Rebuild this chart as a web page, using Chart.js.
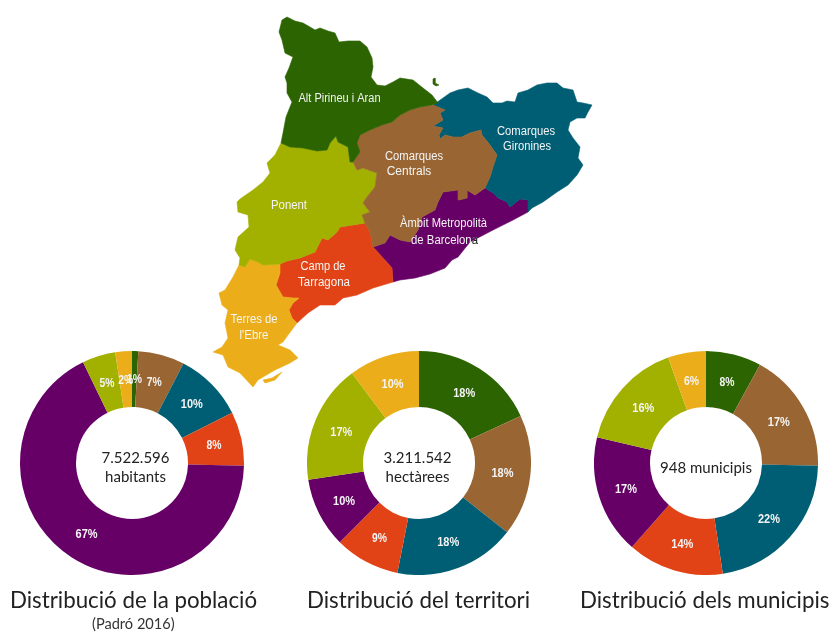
<!DOCTYPE html>
<html>
<head>
<meta charset="utf-8">
<title>Distribució per àmbits territorials</title>
<script src="https://cdn.jsdelivr.net/npm/chart.js@4/dist/chart.umd.min.js"></script>
<style>
  body { margin: 0; background: #fff; width: 833px; height: 632px; overflow: hidden; position: relative; font-family: Lato, sans-serif; }
  canvas { position: absolute; filter: blur(0.4px); }
  .titol { position: absolute; white-space: nowrap; color: #222; font-size: 22.3px; line-height: 28px; top: 586px; filter: blur(0.3px); }
  .nota { position: absolute; white-space: nowrap; color: #333; font-size: 14.6px; line-height: 16px; left: 92px; top: 616px; filter: blur(0.3px); }
</style>
</head>
<body>
<canvas id="mapa" width="833" height="632" style="left:0;top:0"></canvas>
<canvas id="poblacio" width="224" height="224" style="left:20px;top:351px"></canvas>
<canvas id="territori" width="224" height="224" style="left:307px;top:351px"></canvas>
<canvas id="municipis" width="224" height="224" style="left:594px;top:351px"></canvas>
<div class="titol" style="left:10px">Distribució de la població</div>
<div class="nota">(Padró 2016)</div>
<div class="titol" style="left:307px">Distribució del territori</div>
<div class="titol" style="left:580px">Distribució dels municipis</div>

<script>
// ordre dels ambits als donuts
var ambits = ["Alt Pirineu i Aran", "Comarques Centrals", "Comarques Gironines", "Camp de Tarragona", "Àmbit Metropolità de Barcelona", "Ponent", "Terres de l'Ebre"];
var colors = ["#2b6400", "#996633", "#005e74", "#e24316", "#660066", "#a2b000", "#ebae1a"];

// percentatges llegits dels angles de cada sector
var poblacio = [0.9, 6.7, 10, 7.8, 67.4, 4.8, 2.4];
var territori = [18.1, 17.5, 17.5, 9.4, 10.1, 17.2, 10.2];
var municipis = [8, 17.4, 22.2, 13.9, 17.2, 15.8, 5.5];

var centrePoblacio = ["7.522.596", "habitants"];
var centreTerritori = ["3.211.542", "hectàrees"];
var centreMunicipis = ["948 municipis"];

// contorns del mapa, parelles x,y
var altPirineu = [[282,20],[287,17],[295,21],[303,23],[310,27],[315,30],[320,28],[328,31],[335,33],[339,42],[348,41],[360,41],[367,47],[372,58],[373,67],[371,77],[377,85],[385,86],[393,82],[400,78],[413,80],[423,88],[432,95],[438,103],[432,105],[420,107],[410,110],[400,115],[392,122],[382,125],[370,130],[360,135],[357,143],[360,152],[353,162],[350,162],[348,147],[338,142],[336,136],[330,143],[327,150],[317,151],[303,148],[290,147],[281,143],[283,133],[286,117],[292,102],[287,93],[287,83],[285,77],[289,68],[293,57],[285,53],[282,40],[279,32]];
var llivia = [[433,79],[435,78],[435,83],[439,85],[436,86],[433,84]];
var gironines = [[433,105],[443,98],[450,93],[458,90],[468,88],[478,93],[487,97],[493,103],[502,103],[507,101],[515,102],[518,93],[528,90],[537,85],[547,83],[557,83],[563,88],[573,90],[577,102],[583,103],[592,105],[588,112],[585,118],[577,118],[570,122],[568,130],[573,138],[580,147],[578,158],[583,165],[577,175],[568,185],[557,192],[543,202],[532,208],[528,212],[528,200],[520,199],[510,207],[507,202],[498,198],[493,193],[485,188],[490,177],[493,167],[497,155],[490,145],[482,135],[481,130],[470,133],[462,137],[453,137],[445,135],[440,139],[439,135],[443,128],[433,126],[443,120],[440,113],[445,110],[440,108]];
var centrals = [[353,162],[360,152],[357,143],[360,135],[370,130],[382,125],[392,122],[400,115],[410,110],[420,107],[433,105],[440,108],[445,110],[440,113],[443,120],[433,126],[443,128],[439,135],[440,139],[445,135],[453,137],[462,137],[470,133],[481,130],[482,135],[490,145],[497,155],[493,167],[490,177],[485,188],[475,195],[467,190],[467,198],[459,200],[458,190],[443,192],[438,202],[435,210],[422,217],[418,230],[410,242],[400,240],[390,235],[385,243],[373,247],[370,232],[365,223],[362,215],[370,212],[363,203],[367,197],[375,187],[377,173],[363,168],[357,170]];
var metropolita = [[373,247],[385,243],[390,235],[400,240],[410,242],[418,230],[422,217],[435,210],[438,202],[443,192],[458,190],[459,200],[467,198],[467,190],[475,195],[485,188],[493,193],[498,198],[507,202],[510,207],[520,199],[528,200],[528,212],[513,220],[493,230],[470,242],[458,257],[452,260],[445,268],[430,274],[415,278],[400,280],[393,282],[392,268],[383,258]];
var ponent = [[281,143],[290,147],[303,148],[317,151],[327,150],[330,143],[336,136],[338,142],[348,147],[350,162],[353,162],[357,170],[363,168],[377,173],[375,187],[367,197],[363,203],[370,212],[362,215],[365,223],[353,225],[340,227],[337,232],[328,240],[322,238],[315,252],[300,258],[287,261],[280,264],[263,265],[258,262],[250,259],[245,267],[239,265],[240,258],[235,250],[238,237],[249,227],[248,215],[238,212],[237,202],[240,199],[253,190],[263,182],[270,173],[267,163],[275,155]];
var campTarragona = [[365,223],[370,232],[373,247],[383,258],[392,268],[393,282],[373,288],[357,295],[343,298],[335,305],[320,305],[308,313],[297,323],[292,318],[289,310],[293,303],[299,298],[293,298],[283,297],[276,285],[280,273],[280,264],[287,261],[300,258],[315,252],[322,238],[328,240],[337,232],[340,227],[353,225]];
var terresEbre = [[280,264],[263,265],[258,262],[250,259],[245,267],[239,265],[233,277],[225,290],[219,293],[222,305],[228,310],[225,323],[228,338],[222,347],[213,352],[223,355],[228,367],[240,373],[253,387],[258,380],[263,377],[275,370],[290,363],[298,358],[290,350],[278,345],[283,342],[288,335],[297,323],[292,318],[289,310],[293,303],[299,298],[293,298],[283,297],[276,285],[280,273]];
var delta = [[282,372],[275,380],[265,383],[263,380],[272,378]];

var contorns = [
  [altPirineu, 0], [llivia, 0], [centrals, 1], [gironines, 2],
  [ponent, 5], [terresEbre, 6], [delta, 6], [campTarragona, 3], [metropolita, 4]
];

var etiquetesMapa = [
  ["Alt Pirineu i Aran", 339.5, 99, 82],
  ["Comarques", 526, 132, 58],
  ["Gironines", 527, 147, 48],
  ["Comarques", 414, 157, 58],
  ["Centrals", 409, 172, 50],
  ["Ponent", 289, 206, 36],
  ["Àmbit Metropolità", 443.5, 224, 87],
  ["de Barcelona", 444.5, 241, 67],
  ["Camp de", 323, 267, 45],
  ["Tarragona", 324, 283, 52],
  ["Terres de", 254, 320, 47],
  ["l'Ebre", 254, 336, 29]
];

var textMapa = {
  id: "textMapa",
  afterDatasetsDraw: function (chart) {
    var ctx = chart.ctx;
    var sx = chart.scales.x, sy = chart.scales.y;
    ctx.save();
    ctx.font = "12px 'Liberation Sans'";
    ctx.textAlign = "center";
    ctx.textBaseline = "middle";
    ctx.fillStyle = "#f4f4f4";
    etiquetesMapa.forEach(function (e) {
      ctx.fillText(e[0], sx.getPixelForValue(e[1]), sy.getPixelForValue(e[2]), e[3]);
    });
    // l'ultima lletra de Barcelona surt fora del mapa i es veu fosca
    var b = etiquetesMapa[7];
    ctx.beginPath();
    ctx.rect(sx.getPixelForValue(472), sy.getPixelForValue(232), 20, 18);
    ctx.clip();
    ctx.fillStyle = "#222";
    ctx.fillText(b[0], sx.getPixelForValue(b[1]), sy.getPixelForValue(b[2]), b[3]);
    ctx.restore();
  }
};

new Chart(document.getElementById("mapa"), {
  type: "scatter",
  data: {
    datasets: contorns.map(function (c) {
      var punts = c[0].concat([c[0][0]]);
      return {
        data: punts.map(function (p) { return { x: p[0], y: p[1] }; }),
        showLine: true,
        fill: "shape",
        tension: 0,
        pointRadius: 0,
        borderWidth: 0.6,
        borderColor: colors[c[1]],
        backgroundColor: colors[c[1]]
      };
    })
  },
  options: {
    responsive: false,
    animation: false,
    layout: { padding: 0 },
    plugins: { legend: { display: false }, tooltip: { enabled: false } },
    scales: {
      x: { type: "linear", min: 0, max: 833, display: false },
      y: { type: "linear", min: 0, max: 632, reverse: true, display: false }
    }
  },
  plugins: [textMapa]
});

var textDonut = {
  id: "textDonut",
  afterDatasetsDraw: function (chart) {
    var ctx = chart.ctx;
    var valors = chart.data.datasets[0].data;
    var meta = chart.getDatasetMeta(0);
    ctx.save();
    ctx.textAlign = "center";
    ctx.textBaseline = "middle";
    ctx.font = "bold 12.5px 'Liberation Sans'";
    ctx.fillStyle = "#f4f4f4";
    meta.data.forEach(function (arc, i) {
      var p = arc.tooltipPosition();
      var t = Math.round(valors[i]) + "%";
      ctx.fillText(t, p.x, p.y + 1, t.length > 2 ? 22 : 15);
    });
    var opt = chart.options.plugins.textDonut;
    var linies = opt.linies;
    var cx = meta.data[0].x + opt.desplacament, cy = meta.data[0].y;
    ctx.font = "15px Lato";
    ctx.fillStyle = "#222";
    linies.forEach(function (l, i) {
      ctx.fillText(l, cx, cy + 5 + (i - (linies.length - 1) / 2) * 19);
    });
    ctx.restore();
  }
};

function donut(id, valors, linies, desplacament) {
  new Chart(document.getElementById(id), {
    type: "doughnut",
    data: {
      labels: ambits,
      datasets: [{ data: valors, backgroundColor: colors, borderWidth: 0 }]
    },
    options: {
      responsive: false,
      animation: false,
      cutout: "50%",
      layout: { padding: 0 },
      plugins: {
        legend: { display: false },
        tooltip: { enabled: false },
        textDonut: { linies: linies, desplacament: desplacament }
      }
    },
    plugins: [textDonut]
  });
}

donut("poblacio", poblacio, centrePoblacio, 3.5);
donut("territori", territori, centreTerritori, -1.5);
donut("municipis", municipis, centreMunicipis, 0);
</script>
</body>
</html>
